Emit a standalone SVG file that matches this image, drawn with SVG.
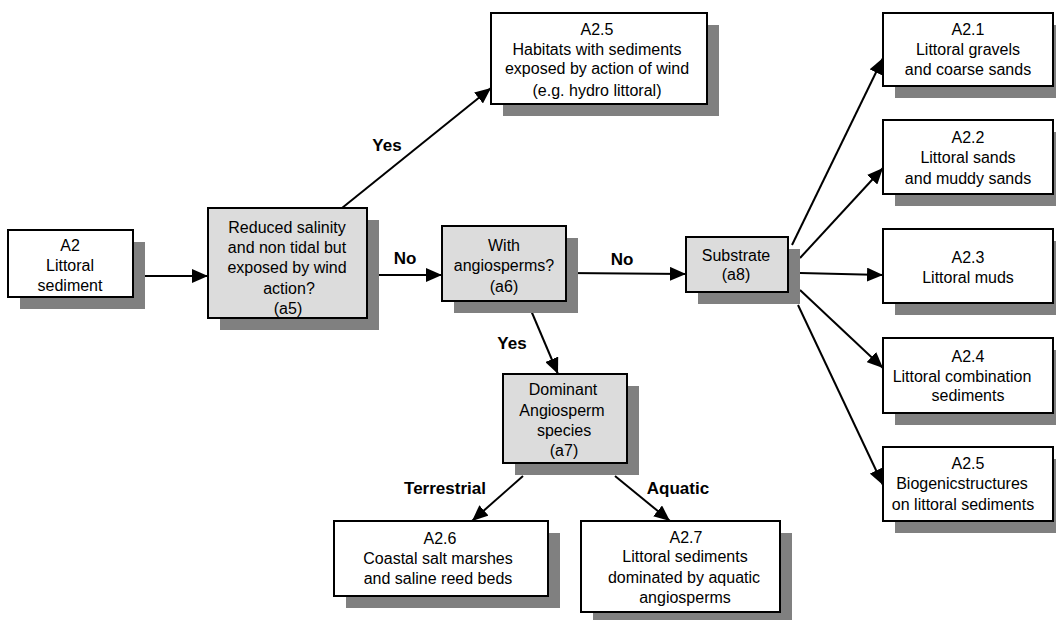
<svg xmlns="http://www.w3.org/2000/svg" width="1056" height="620" viewBox="0 0 1056 620">
<defs>
<style>
.box{fill:#ffffff;stroke:#000;stroke-width:2}
.q{fill:#dcdcdc;stroke:#000;stroke-width:2}
.sh{fill:#808080}
text{font-family:"Liberation Sans",Arial,sans-serif;font-size:16px;fill:#000;text-anchor:middle}
.lb{font-weight:bold;font-size:17px}
.c{stroke:#000;stroke-width:2;fill:none;marker-end:url(#ah)}
</style>
<marker id="ah" markerUnits="userSpaceOnUse" markerWidth="16" markerHeight="14" refX="16" refY="7" orient="auto">
<path d="M0,0 L16,7 L0,14 z" fill="#000"/>
</marker>
</defs>
<rect width="1056" height="620" fill="#fff"/>

<g id="connectors">
<line class="c" x1="133" y1="276" x2="208" y2="276"/>
<line class="c" x1="367" y1="275" x2="442" y2="275"/>
<line class="c" x1="342" y1="208" x2="491" y2="88"/>
<line class="c" x1="566" y1="273" x2="686" y2="274"/>
<line class="c" x1="527" y1="301" x2="558" y2="374"/>
<line class="c" x1="792" y1="245" x2="883" y2="58"/>
<line class="c" x1="800" y1="258" x2="883" y2="168"/>
<line class="c" x1="800" y1="273" x2="883" y2="275"/>
<line class="c" x1="800" y1="290" x2="883" y2="368"/>
<line class="c" x1="798" y1="305" x2="883" y2="485"/>
<line class="c" x1="523" y1="476" x2="472" y2="521"/>
<line class="c" x1="615" y1="476" x2="670" y2="521"/>
<text class="lb" x="387" y="151">Yes</text>
<text class="lb" x="405" y="264">No</text>
<text class="lb" x="622" y="265">No</text>
<text class="lb" x="512" y="349">Yes</text>
<text class="lb" x="445" y="494">Terrestrial</text>
<text class="lb" x="678" y="494">Aquatic</text>
</g>

<g id="A2">
<rect class="sh" x="20" y="242" width="125" height="67"/>
<rect class="box" x="8" y="230" width="125" height="67"/>
<text x="70" y="251">A2</text>
<text x="70" y="271">Littoral</text>
<text x="70" y="291">sediment</text>
</g>

<g id="a5">
<rect class="sh" x="220" y="220" width="159" height="110"/>
<rect class="q" x="208" y="208" width="159" height="110"/>
<text x="287" y="233">Reduced salinity</text>
<text x="287" y="253">and non tidal but</text>
<text x="287" y="273">exposed by wind</text>
<text x="289" y="294">action?</text>
<text x="288" y="314">(a5)</text>
</g>

<g id="A25top">
<rect class="sh" x="503" y="25" width="216" height="91"/>
<rect class="box" x="491" y="13" width="216" height="91"/>
<text x="597" y="35">A2.5</text>
<text x="597" y="55">Habitats with sediments</text>
<text x="597" y="74">exposed by action of wind</text>
<text x="597" y="96">(e.g. hydro littoral)</text>
</g>

<g id="a6">
<rect class="sh" x="454" y="238" width="124" height="75"/>
<rect class="q" x="442" y="226" width="124" height="75"/>
<text x="504" y="251">With</text>
<text x="504" y="271">angiosperms?</text>
<text x="504" y="292">(a6)</text>
</g>

<g id="a8">
<rect class="sh" x="698" y="249" width="102" height="55"/>
<rect class="q" x="686" y="237" width="102" height="55"/>
<text x="736" y="261">Substrate</text>
<text x="736" y="280">(a8)</text>
</g>

<g id="A21">
<rect class="sh" x="895" y="25" width="170" height="73"/>
<rect class="box" x="883" y="13" width="170" height="73"/>
<text x="968" y="35">A2.1</text>
<text x="968" y="55">Littoral gravels</text>
<text x="968" y="75">and coarse sands</text>
</g>

<g id="A22">
<rect class="sh" x="895" y="132" width="170" height="74"/>
<rect class="box" x="883" y="120" width="170" height="74"/>
<text x="968" y="143">A2.2</text>
<text x="968" y="163">Littoral sands</text>
<text x="968" y="184">and muddy sands</text>
</g>

<g id="A23">
<rect class="sh" x="895" y="241" width="170" height="74"/>
<rect class="box" x="883" y="229" width="170" height="74"/>
<text x="968" y="263">A2.3</text>
<text x="968" y="283">Littoral muds</text>
</g>

<g id="A24">
<rect class="sh" x="895" y="350" width="170" height="75"/>
<rect class="box" x="883" y="338" width="170" height="75"/>
<text x="968" y="362">A2.4</text>
<text x="962" y="382">Littoral combination</text>
<text x="968" y="401">sediments</text>
</g>

<g id="A25">
<rect class="sh" x="895" y="459" width="170" height="74"/>
<rect class="box" x="883" y="447" width="170" height="74"/>
<text x="968" y="469">A2.5</text>
<text x="962" y="489">Biogenicstructures</text>
<text x="963" y="510">on littoral sediments</text>
</g>

<g id="a7">
<rect class="sh" x="515" y="386" width="124" height="89"/>
<rect class="q" x="503" y="374" width="124" height="89"/>
<text x="563" y="395">Dominant</text>
<text x="562" y="416">Angiosperm</text>
<text x="564" y="436">species</text>
<text x="564" y="456">(a7)</text>
</g>

<g id="A26">
<rect class="sh" x="346" y="533" width="214" height="75"/>
<rect class="box" x="334" y="521" width="214" height="75"/>
<text x="440" y="544">A2.6</text>
<text x="438" y="564">Coastal salt marshes</text>
<text x="438" y="584">and saline reed beds</text>
</g>

<g id="A27">
<rect class="sh" x="593" y="533" width="199" height="91"/>
<rect class="box" x="581" y="521" width="199" height="91"/>
<text x="686" y="543">A2.7</text>
<text x="685" y="562">Littoral sediments</text>
<text x="684" y="583">dominated by aquatic</text>
<text x="685" y="603">angiosperms</text>
</g>
</svg>
